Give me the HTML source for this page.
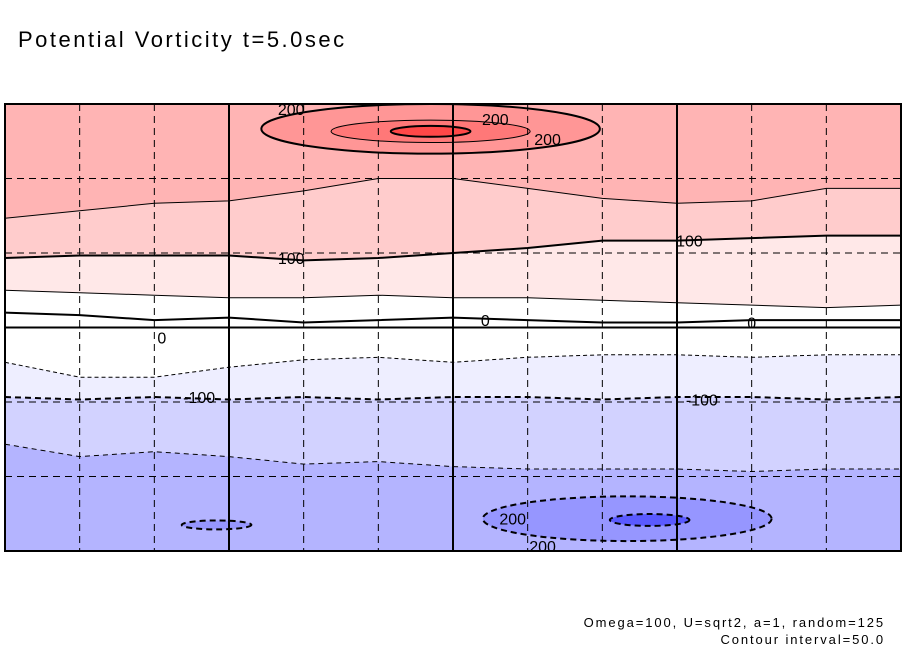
<!DOCTYPE html>
<html><head><meta charset="utf-8"><style>
html,body{margin:0;padding:0;background:#fff;}
svg{display:block;font-family:"Liberation Sans",sans-serif;}
</style></head><body>
<svg id="chart" width="904" height="654" viewBox="0 0 904 654" xmlns="http://www.w3.org/2000/svg">
<defs><clipPath id="pc"><rect x="5" y="104" width="896" height="447"/></clipPath></defs>
<text x="18" y="47" font-size="22" letter-spacing="2.5" fill="#000">Potential Vorticity t=5.0sec</text>
<g id="plot"></g>
<text x="885" y="627" font-size="13" letter-spacing="1.9" text-anchor="end">Omega=100, U=sqrt2, a=1, random=125</text>
<text x="885" y="644" font-size="13" letter-spacing="1.9" text-anchor="end">Contour interval=50.0</text>
</svg>
<script>
// longitude sample points (deg)
const lons = [0,30,60,90,120,150,180,210,240,270,300,330,360];
// contour level boundary latitudes (deg)
const lat150 = [44,47,50,51,55,60,60,56,52,50,51,56,56];
const lat100 = [28,29,29,29,27,28,30,32,35,35,36,37,37];
const lat50  = [15,14,13,12,12,13,12,12,11,10,9,8,9];
const lat0   = [6,5,3,4,2,3,4,3,2,2,3,3,3];
const latM50 = [-14,-20,-20,-16,-13,-12,-14,-12,-11,-11,-12,-11,-11];
const latM100= [-28,-29,-28,-29,-28,-29,-28,-28,-29,-28,-28,-29,-28];
const latM150= [-47,-52,-50,-52,-55,-54,-56,-57,-57,-57,-58,-57,-57];
// vortex blobs: [centerLon, centerLat, halfWidthLon, halfHeightLat, level]
const highs = [[171,80,68,10,200],[171,79,40,4.5,250],[171,79,16,2.2,300]];
const lows  = [[250,-77,58,9,-200],[259,-77.5,16,2.4,-250],[85,-79.5,14,1.8,-200]];
// labels: [lon, lat, text]
const labels = [[115,88,'200'],[197,84,'200'],[218,76,'200'],[115,28,'100'],[275,35,'100'],[63,-4,'0'],[193,3,'0'],[300,2,'0'],[78,-28,'-100'],[280,-29,'-100'],[204,-77,'200'],[216,-88,'200']];
const levels = [150,100,50,0,-50,-100,-150];
const levelColors = {above150:'#ffb4b4',l150:'#ffcccc',l100:'#ffe8e8',lm50:'#eeeeff',lm100:'#d2d2ff',lm150:'#b4b4ff'};

const X0=5,X1=901,Y0=104,Y1=551;
const xs = lon => X0 + lon/360*(X1-X0);
const ys = lat => (Y0+Y1)/2 - lat/180*(Y1-Y0);
const NS='http://www.w3.org/2000/svg';
const root=document.getElementById('plot');
const plot=document.createElementNS(NS,'g');
plot.setAttribute('clip-path','url(#pc)');


root.appendChild(plot);
function mk(tag,attrs,parent){const e=document.createElementNS(NS,tag);for(const k in attrs)e.setAttribute(k,attrs[k]);(parent||plot).appendChild(e);return e;}
function linePts(arr){return lons.map((l,i)=>xs(l).toFixed(1)+','+ys(arr[i]).toFixed(1)).join(' ');}

let bg=mk('rect',{x:X0,y:Y0,width:X1-X0,height:Y1-Y0,fill:levelColors.lm150});


const bands=[[latM150,levelColors.lm100,'band-minus150-minus100'],[latM100,levelColors.lm50,'band-minus100-minus50'],[latM50,'#ffffff','band-minus50-50'],[lat50,levelColors.l100,'band-50-100'],[lat100,levelColors.l150,'band-100-150'],[lat150,levelColors.above150,'band-above-150']];
bands.forEach(b=>{
  const p=mk('polygon',{points:X0+','+Y0+' '+linePts(b[0])+' '+X1+','+Y0,fill:b[1]});
  
  
});
const hiCol={200:'#ff9696',250:'#ff7878',300:'#ff4848'};
const loCol={'-200':'#9696ff','-250':'#5a5aff'};
highs.forEach(h=>{
  const e=mk('ellipse',{cx:xs(h[0]),cy:ys(h[1]),rx:h[2]/360*(X1-X0),ry:h[3]/180*(Y1-Y0),fill:hiCol[h[4]],stroke:'#000','stroke-width':h[4]%100===0?2:1});
  
  
});
lows.forEach(h=>{
  const e=mk('ellipse',{cx:xs(h[0]),cy:ys(h[1]),rx:h[2]/360*(X1-X0),ry:h[3]/180*(Y1-Y0),fill:loCol[h[4]],stroke:'#000','stroke-width':2,'stroke-dasharray':'6,4'});
  
  
});
const cl=[[lat150,1,null],[lat100,2,null],[lat50,1,null],[lat0,2,null],[latM50,1,'4,3'],[latM100,2,'6,4'],[latM150,1,'5,4']];
cl.forEach((c,i)=>{
  const a={points:linePts(c[0]),fill:'none',stroke:'#000','stroke-width':c[1]};
  if(c[2])a['stroke-dasharray']=c[2];
  const p=mk('polyline',a);
  
  
});
for(let lon=30;lon<360;lon+=30){
  const solid=lon%90===0;
  const l=mk('line',{x1:xs(lon),x2:xs(lon),y1:Y0,y2:Y1,stroke:'#000','stroke-width':solid?2:1,'stroke-dasharray':solid?'none':'7,5'});
  
  
}
for(let lat=-60;lat<=60;lat+=30){
  const solid=lat===0;
  const l=mk('line',{x1:X0,x2:X1,y1:ys(lat),y2:ys(lat),stroke:'#000','stroke-width':solid?2:1,'stroke-dasharray':solid?'none':'7,5'});
  
  
}
labels.forEach(lb=>{
  const t=mk('text',{x:xs(lb[0]),y:ys(lb[1])+6,'font-size':16,'text-anchor':'middle',fill:'#000'},root);
  t.textContent=lb[2];
  
  
});
const fr=mk('rect',{x:X0,y:Y0,width:X1-X0,height:Y1-Y0,fill:'none',stroke:'#000','stroke-width':2},root);


</script>
</body></html>
